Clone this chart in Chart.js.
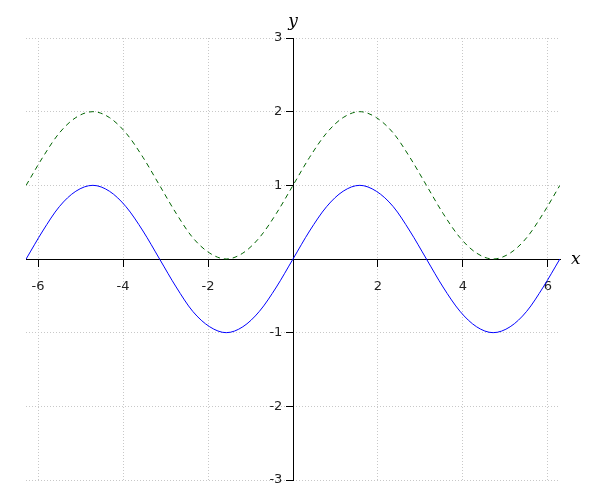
<!DOCTYPE html>
<html>
<head>
<meta charset="utf-8">
<script src="https://cdn.jsdelivr.net/npm/chart.js@4/dist/chart.umd.min.js"></script>
<style>
  body { margin: 0; background: #fff; }
  canvas { display: block; }
</style>
</head>
<body>
<canvas id="plot" width="600" height="500"></canvas>
<script>
// x samples (step ~ pi/8, from -2pi to 2pi)
const xVals = [-6.28, -5.89, -5.50, -5.11, -4.71, -4.32, -3.93, -3.53, -3.14, -2.75, -2.36, -1.96, -1.57, -1.18, -0.79, -0.39,
  0, 0.39, 0.79, 1.18, 1.57, 1.96, 2.36, 2.75, 3.14, 3.53, 3.93, 4.32, 4.71, 5.11, 5.50, 5.89, 6.28];

// blue solid curve
const sinVals = [0, 0.38, 0.71, 0.92, 1, 0.92, 0.71, 0.38, 0, -0.38, -0.71, -0.92, -1, -0.92, -0.71, -0.38,
  0, 0.38, 0.71, 0.92, 1, 0.92, 0.71, 0.38, 0, -0.38, -0.71, -0.92, -1, -0.92, -0.71, -0.38, 0];

// green dashed curve
const shiftedVals = [1, 1.38, 1.71, 1.92, 2, 1.92, 1.71, 1.38, 1, 0.62, 0.29, 0.08, 0, 0.08, 0.29, 0.62,
  1, 1.38, 1.71, 1.92, 2, 1.92, 1.71, 1.38, 1, 0.62, 0.29, 0.08, 0, 0.08, 0.29, 0.62, 1];

const xRange = [-6.2832, 6.2832];
const yRange = [-3, 3];
const xStep = 2;
const yStep = 1;

const toPoints = (ys) => xVals.map((x, i) => ({ x: x, y: ys[i] }));

// axis names drawn in italic serif next to the axes
const axisNames = {
  id: 'axisNames',
  afterDraw(chart) {
    const { ctx, chartArea, scales } = chart;
    ctx.save();
    ctx.fillStyle = '#000';
    ctx.font = 'italic 17px "DejaVu Serif"';
    ctx.textBaseline = 'middle';
    ctx.textAlign = 'left';
    ctx.fillText('x', chartArea.right + 11, scales.y.getPixelForValue(0) + 1);
    ctx.textAlign = 'center';
    ctx.fillText('y', scales.x.getPixelForValue(0), chartArea.top - 16);
    ctx.restore();
  }
};

const hideZero = (v) => (v === 0 ? '' : v);
// y labels are right-aligned on the axis line, so pad them away from it
const yLabel = (v) => (v === 0 ? '' : v + '\u2002 ');

new Chart(document.getElementById('plot'), {
  type: 'line',
  data: {
    datasets: [
      {
        data: toPoints(sinVals),
        borderColor: '#0000ff',
        borderWidth: 1,
        pointRadius: 0,
        cubicInterpolationMode: 'monotone'
      },
      {
        data: toPoints(shiftedVals),
        borderColor: '#006400',
        borderWidth: 1,
        borderDash: [5, 4],
        pointRadius: 0,
        cubicInterpolationMode: 'monotone'
      }
    ]
  },
  options: {
    responsive: false,
    animation: false,
    layout: { padding: { left: 26, top: 38, right: 40, bottom: 20 } },
    plugins: { legend: { display: false }, tooltip: { enabled: false } },
    scales: {
      x: {
        type: 'linear',
        position: { y: 0 },
        min: xRange[0],
        max: xRange[1],
        ticks: {
          stepSize: xStep,
          includeBounds: false,
          callback: hideZero,
          color: '#222',
          padding: 13,
          maxRotation: 0,
          font: { family: 'DejaVu Sans', size: 13 }
        },
        grid: {
          color: '#c8c8c8',
          tickColor: '#000',
          tickLength: 7,
          tickBorderDash: []
        },
        border: { display: true, color: '#000', width: 1, dash: [1, 2] }
      },
      y: {
        type: 'linear',
        position: { x: 0 },
        min: yRange[0],
        max: yRange[1],
        ticks: {
          stepSize: yStep,
          callback: yLabel,
          color: '#222',
          font: { family: 'DejaVu Sans', size: 13 }
        },
        grid: {
          color: '#c8c8c8',
          tickColor: '#000',
          tickLength: 7,
          tickBorderDash: []
        },
        border: { display: true, color: '#000', width: 1, dash: [1, 2] }
      }
    }
  },
  plugins: [axisNames]
});
</script>
</body>
</html>
